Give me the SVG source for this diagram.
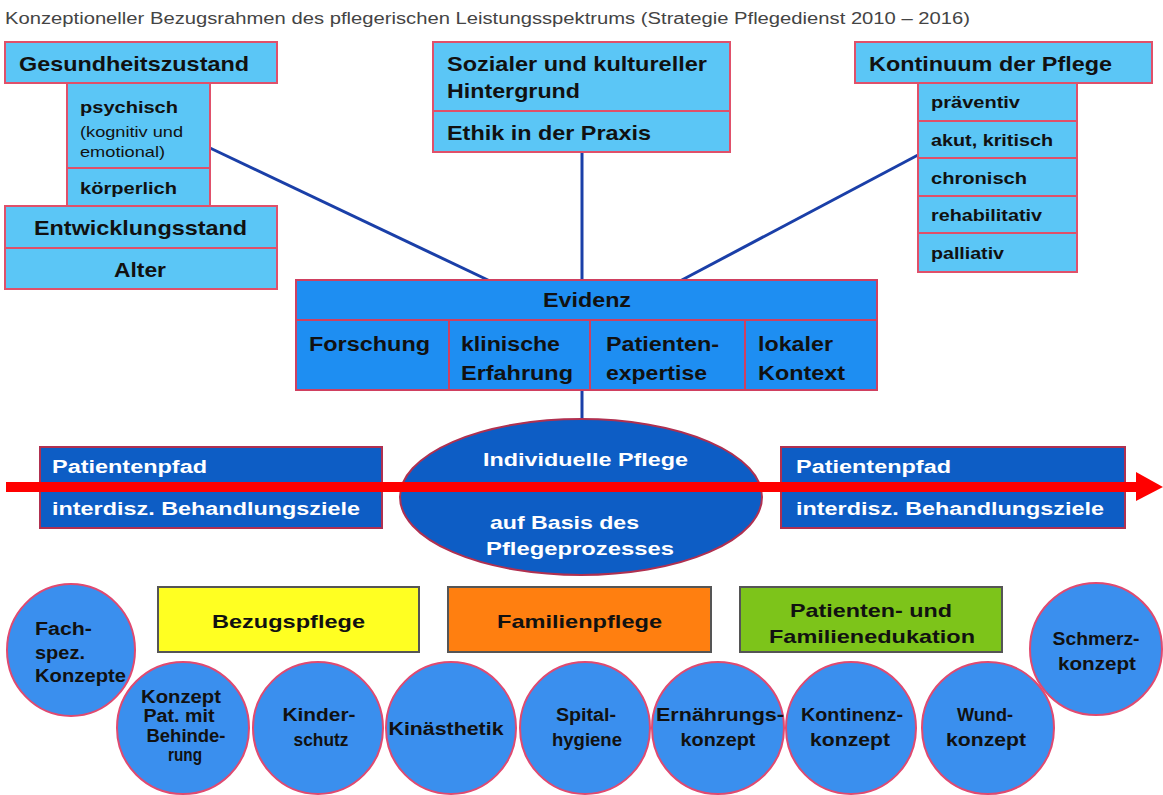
<svg xmlns="http://www.w3.org/2000/svg" width="1163" height="795" viewBox="0 0 1163 795">
<style>
.t{font-family:"Liberation Sans",Arial,sans-serif;fill:#111}
.b{font-weight:bold}
.w{fill:#fff}
.g{fill:#444}
.box{fill:#5BC6F6;stroke:#E0506A;stroke-width:2}
.ev{fill:#1E8EF2;stroke:#D04060;stroke-width:2}
.dark{fill:#0D5DC5;stroke:#B03050;stroke-width:2}
.circ{fill:#3A8FEE;stroke:#E04A70;stroke-width:2}
.cat{stroke:#555;stroke-width:2}
.con{stroke:#1A3FA8;stroke-width:3;fill:none}
</style>
<rect width="1163" height="795" fill="#fff"/>
<text class="t g" x="5" y="24" font-size="16" textLength="965" lengthAdjust="spacingAndGlyphs">Konzeptioneller Bezugsrahmen des pflegerischen Leistungsspektrums (Strategie Pflegedienst 2010 – 2016)</text>

<g id="connectors">
<line class="con" x1="210" y1="148" x2="490" y2="281"/>
<line class="con" x1="582" y1="152" x2="582" y2="281"/>
<line class="con" x1="918" y1="155" x2="680" y2="281"/>
<line class="con" x1="582" y1="390" x2="582" y2="420"/>
</g>

<g id="gesundheitszustand">
<rect class="box" x="5" y="42" width="272" height="41"/>
<text class="t b" x="19" y="71" font-size="21" textLength="230" lengthAdjust="spacingAndGlyphs">Gesundheitszustand</text>
<rect class="box" x="67" y="83" width="143" height="85"/>
<text class="t b" x="80" y="113" font-size="17" textLength="98" lengthAdjust="spacingAndGlyphs">psychisch</text>
<text class="t" x="80" y="137" font-size="15" textLength="103" lengthAdjust="spacingAndGlyphs">(kognitiv und</text>
<text class="t" x="80" y="157" font-size="15" textLength="85" lengthAdjust="spacingAndGlyphs">emotional)</text>
<rect class="box" x="67" y="168" width="143" height="38"/>
<text class="t b" x="80" y="194" font-size="17" textLength="97" lengthAdjust="spacingAndGlyphs">körperlich</text>
</g>
<g id="entwicklungsstand">
<rect class="box" x="5" y="206" width="272" height="42"/>
<text class="t b" x="34" y="235" font-size="21" textLength="213" lengthAdjust="spacingAndGlyphs">Entwicklungsstand</text>
<rect class="box" x="5" y="248" width="272" height="41"/>
<text class="t b" x="114" y="277" font-size="21" textLength="52" lengthAdjust="spacingAndGlyphs">Alter</text>
</g>

<g id="sozialer-hintergrund">
<rect class="box" x="433" y="42" width="297" height="69"/>
<text class="t b" x="447" y="71" font-size="21" textLength="260" lengthAdjust="spacingAndGlyphs">Sozialer und kultureller</text>
<text class="t b" x="447" y="98" font-size="21" textLength="133" lengthAdjust="spacingAndGlyphs">Hintergrund</text>
<rect class="box" x="433" y="111" width="297" height="41"/>
<text class="t b" x="447" y="140" font-size="21" textLength="204" lengthAdjust="spacingAndGlyphs">Ethik in der Praxis</text>
</g>

<g id="kontinuum">
<rect class="box" x="855" y="42" width="297" height="41"/>
<text class="t b" x="869" y="71" font-size="21" textLength="243" lengthAdjust="spacingAndGlyphs">Kontinuum der Pflege</text>
<rect class="box" x="918" y="83" width="159" height="38"/>
<text class="t b" x="931" y="108" font-size="16" textLength="89" lengthAdjust="spacingAndGlyphs">präventiv</text>
<rect class="box" x="918" y="121" width="159" height="37"/>
<text class="t b" x="931" y="146" font-size="16" textLength="122" lengthAdjust="spacingAndGlyphs">akut, kritisch</text>
<rect class="box" x="918" y="158" width="159" height="38"/>
<text class="t b" x="931" y="184" font-size="16" textLength="96" lengthAdjust="spacingAndGlyphs">chronisch</text>
<rect class="box" x="918" y="196" width="159" height="37"/>
<text class="t b" x="931" y="221" font-size="16" textLength="111" lengthAdjust="spacingAndGlyphs">rehabilitativ</text>
<rect class="box" x="918" y="233" width="159" height="39"/>
<text class="t b" x="931" y="259" font-size="16" textLength="73" lengthAdjust="spacingAndGlyphs">palliativ</text>
</g>

<g id="evidenz">
<rect class="ev" x="296" y="280" width="581" height="40"/>
<text class="t b" x="543" y="307" font-size="20" textLength="88" lengthAdjust="spacingAndGlyphs">Evidenz</text>
<rect class="ev" x="296" y="320" width="153" height="70"/>
<rect class="ev" x="449" y="320" width="141" height="70"/>
<rect class="ev" x="590" y="320" width="155" height="70"/>
<rect class="ev" x="745" y="320" width="132" height="70"/>
<text class="t b" x="309" y="351" font-size="20" textLength="121" lengthAdjust="spacingAndGlyphs">Forschung</text>
<text class="t b" x="461" y="351" font-size="20" textLength="99" lengthAdjust="spacingAndGlyphs">klinische</text>
<text class="t b" x="461" y="380" font-size="20" textLength="112" lengthAdjust="spacingAndGlyphs">Erfahrung</text>
<text class="t b" x="606" y="351" font-size="20" textLength="113" lengthAdjust="spacingAndGlyphs">Patienten-</text>
<text class="t b" x="606" y="380" font-size="20" textLength="101" lengthAdjust="spacingAndGlyphs">expertise</text>
<text class="t b" x="758" y="351" font-size="20" textLength="75" lengthAdjust="spacingAndGlyphs">lokaler</text>
<text class="t b" x="758" y="380" font-size="20" textLength="87" lengthAdjust="spacingAndGlyphs">Kontext</text>
</g>

<g id="patientenpfad-links">
<rect class="dark" x="40" y="447" width="342" height="81"/>
<text class="t b w" x="52" y="473" font-size="18" textLength="155" lengthAdjust="spacingAndGlyphs">Patientenpfad</text>
<text class="t b w" x="52" y="515" font-size="18" textLength="308" lengthAdjust="spacingAndGlyphs">interdisz. Behandlungsziele</text>
</g>
<g id="individuelle-pflege">
<ellipse class="dark" cx="581" cy="497" rx="181" ry="78"/>
<text class="t b w" x="483" y="466" font-size="19" textLength="205" lengthAdjust="spacingAndGlyphs">Individuelle Pflege</text>
<text class="t b w" x="490" y="529" font-size="19" textLength="149" lengthAdjust="spacingAndGlyphs">auf Basis des</text>
<text class="t b w" x="486" y="555" font-size="19" textLength="188" lengthAdjust="spacingAndGlyphs">Pflegeprozesses</text>
</g>
<g id="patientenpfad-rechts">
<rect class="dark" x="781" y="447" width="344" height="81"/>
<text class="t b w" x="796" y="473" font-size="18" textLength="155" lengthAdjust="spacingAndGlyphs">Patientenpfad</text>
<text class="t b w" x="796" y="515" font-size="18" textLength="308" lengthAdjust="spacingAndGlyphs">interdisz. Behandlungsziele</text>
</g>
<g id="pfeil">
<line x1="6" y1="487" x2="1138" y2="487" stroke="#FF0000" stroke-width="10"/>
<polygon points="1136,472 1163,487 1136,501" fill="#FF0000"/>
</g>

<g id="bezugspflege">
<rect class="cat" x="158" y="587" width="261" height="65" fill="#FFFF22"/>
<text class="t b" x="212" y="628" font-size="19" textLength="153" lengthAdjust="spacingAndGlyphs">Bezugspflege</text>
</g>
<g id="familienpflege">
<rect class="cat" x="448" y="587" width="263" height="65" fill="#FF7F10"/>
<text class="t b" x="497" y="628" font-size="19" textLength="165" lengthAdjust="spacingAndGlyphs">Familienpflege</text>
</g>
<g id="edukation">
<rect class="cat" x="740" y="587" width="262" height="65" fill="#7DC41A"/>
<text class="t b" x="790" y="617" font-size="19" textLength="162" lengthAdjust="spacingAndGlyphs">Patienten- und</text>
<text class="t b" x="769" y="643" font-size="19" textLength="206" lengthAdjust="spacingAndGlyphs">Familienedukation</text>
</g>

<g id="fachspez">
<ellipse class="circ" cx="71" cy="650" rx="64" ry="66"/>
<text class="t b" x="35" y="635" font-size="18" textLength="57" lengthAdjust="spacingAndGlyphs">Fach-</text>
<text class="t b" x="35" y="659" font-size="18" textLength="50" lengthAdjust="spacingAndGlyphs">spez.</text>
<text class="t b" x="35" y="682" font-size="18" textLength="91" lengthAdjust="spacingAndGlyphs">Konzepte</text>
</g>
<g id="behinderung">
<ellipse class="circ" cx="183" cy="728" rx="66" ry="66"/>
<text class="t b" x="181" y="703" font-size="18" text-anchor="middle" textLength="80" lengthAdjust="spacingAndGlyphs">Konzept</text>
<text class="t b" x="179" y="722" font-size="18" text-anchor="middle" textLength="71" lengthAdjust="spacingAndGlyphs">Pat. mit</text>
<text class="t b" x="186" y="742" font-size="18" text-anchor="middle" textLength="79" lengthAdjust="spacingAndGlyphs">Behinde-</text>
<text class="t b" x="185" y="761" font-size="18" text-anchor="middle" textLength="34" lengthAdjust="spacingAndGlyphs">rung</text>
</g>
<g id="kinderschutz">
<ellipse class="circ" cx="318" cy="728" rx="65" ry="66"/>
<text class="t b" x="319" y="721" font-size="18" text-anchor="middle" textLength="73" lengthAdjust="spacingAndGlyphs">Kinder-</text>
<text class="t b" x="321" y="746" font-size="18" text-anchor="middle" textLength="55" lengthAdjust="spacingAndGlyphs">schutz</text>
</g>
<g id="kinaesthetik">
<ellipse class="circ" cx="451" cy="728" rx="65" ry="66"/>
<text class="t b" x="446" y="735" font-size="18" text-anchor="middle" textLength="115" lengthAdjust="spacingAndGlyphs">Kinästhetik</text>
</g>
<g id="spitalhygiene">
<ellipse class="circ" cx="585" cy="728" rx="65" ry="66"/>
<text class="t b" x="586" y="721" font-size="18" text-anchor="middle" textLength="60" lengthAdjust="spacingAndGlyphs">Spital-</text>
<text class="t b" x="587" y="746" font-size="18" text-anchor="middle" textLength="70" lengthAdjust="spacingAndGlyphs">hygiene</text>
</g>
<g id="ernaehrung">
<ellipse class="circ" cx="718" cy="728" rx="66" ry="66"/>
<text class="t b" x="720" y="721" font-size="18" text-anchor="middle" textLength="128" lengthAdjust="spacingAndGlyphs">Ernährungs-</text>
<text class="t b" x="718" y="746" font-size="18" text-anchor="middle" textLength="75" lengthAdjust="spacingAndGlyphs">konzept</text>
</g>
<g id="kontinenz">
<ellipse class="circ" cx="851" cy="728" rx="65" ry="66"/>
<text class="t b" x="852" y="721" font-size="18" text-anchor="middle" textLength="102" lengthAdjust="spacingAndGlyphs">Kontinenz-</text>
<text class="t b" x="850" y="746" font-size="18" text-anchor="middle" textLength="80" lengthAdjust="spacingAndGlyphs">konzept</text>
</g>
<g id="wundkonzept">
<ellipse class="circ" cx="988" cy="728" rx="66" ry="66"/>
<text class="t b" x="985" y="721" font-size="18" text-anchor="middle" textLength="56" lengthAdjust="spacingAndGlyphs">Wund-</text>
<text class="t b" x="986" y="746" font-size="18" text-anchor="middle" textLength="80" lengthAdjust="spacingAndGlyphs">konzept</text>
</g>
<g id="schmerzkonzept">
<ellipse class="circ" cx="1096" cy="649" rx="66" ry="66"/>
<text class="t b" x="1096" y="645" font-size="18" text-anchor="middle" textLength="87" lengthAdjust="spacingAndGlyphs">Schmerz-</text>
<text class="t b" x="1097" y="670" font-size="18" text-anchor="middle" textLength="78" lengthAdjust="spacingAndGlyphs">konzept</text>
</g>
</svg>
